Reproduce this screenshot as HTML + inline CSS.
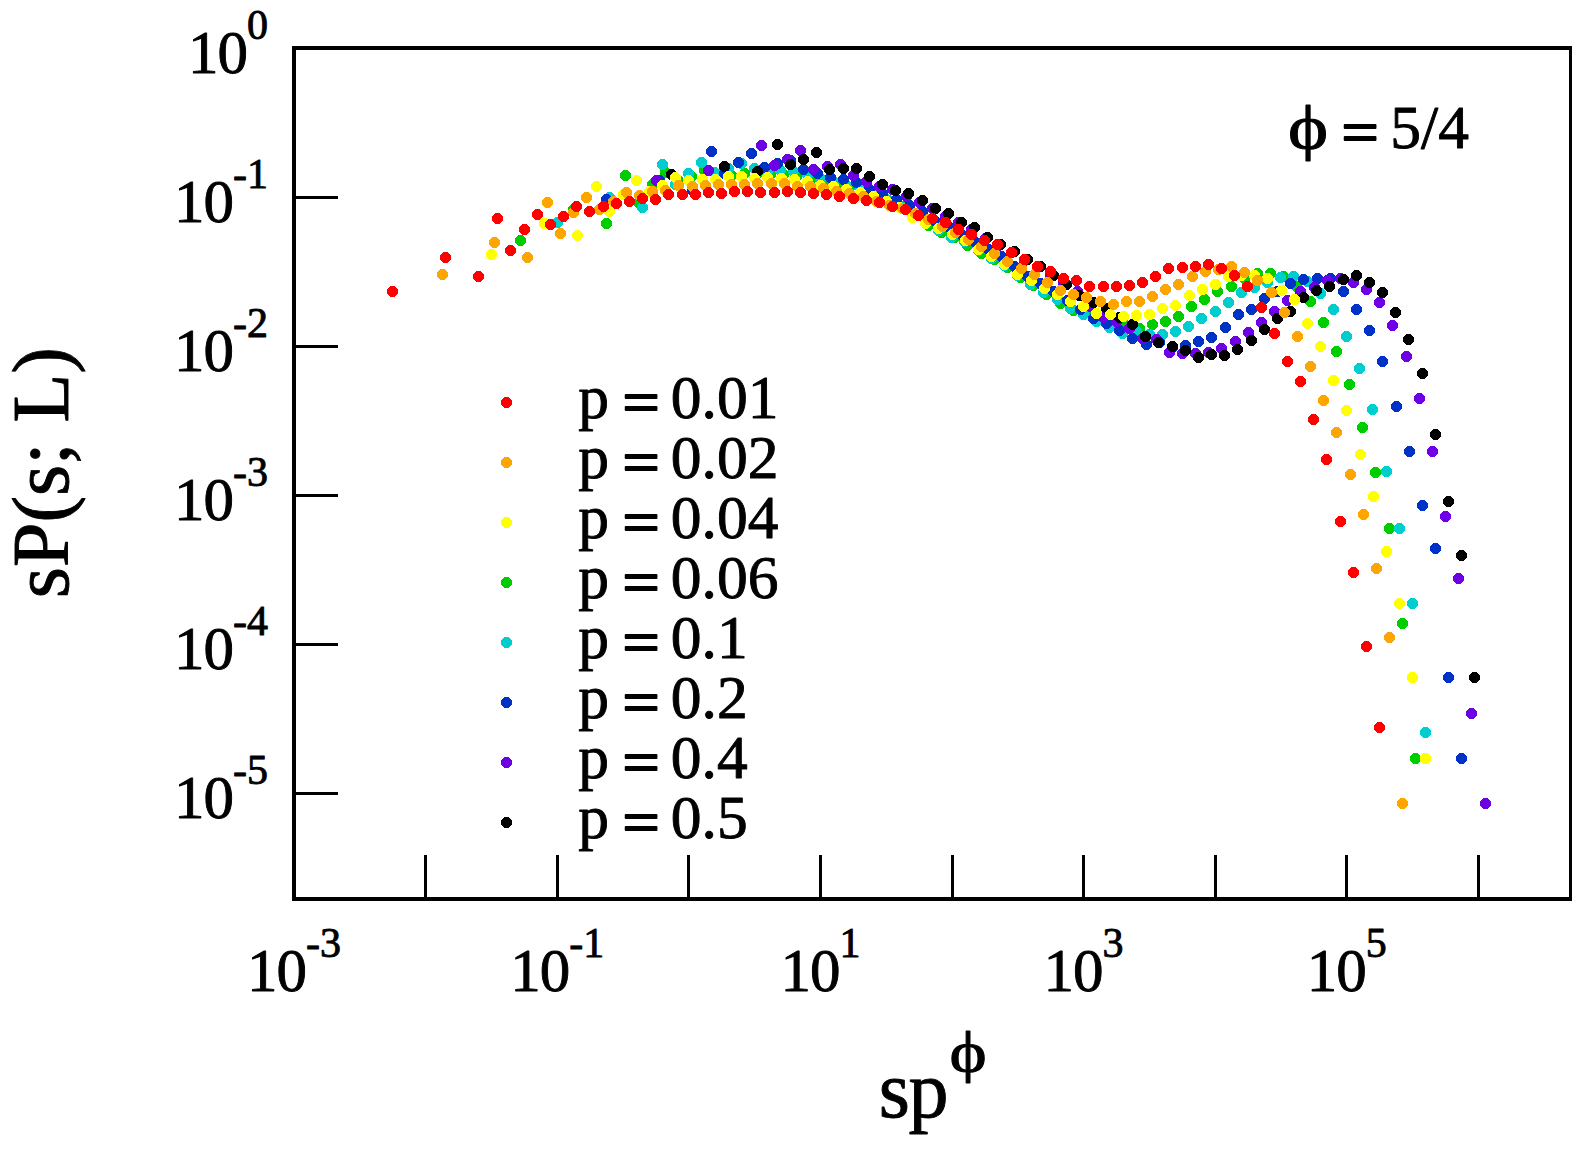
<!DOCTYPE html>
<html><head><meta charset="utf-8"><title>sP(s; L) scaling plot</title>
<style>
html,body{margin:0;padding:0;background:#fff;}
body{width:1591px;height:1149px;overflow:hidden;}
svg{display:block;}
text{font-family:"Liberation Serif",serif;fill:#000;stroke:#000;stroke-width:0.9px;stroke-linejoin:round;}
</style></head><body>
<svg width="1591" height="1149" viewBox="0 0 1591 1149">
<rect x="0" y="0" width="1591" height="1149" fill="#ffffff"/>
<g fill="#000" shape-rendering="crispEdges">
<rect x="292" y="46" width="4" height="855"/><rect x="292" y="46" width="1280" height="4"/><rect x="1569" y="46" width="3" height="855"/><rect x="292" y="897" width="1280" height="4"/>
<rect x="424" y="855" width="3" height="43"/><rect x="556" y="855" width="3" height="43"/><rect x="687" y="855" width="3" height="43"/><rect x="819" y="855" width="3" height="43"/><rect x="951" y="855" width="3" height="43"/><rect x="1082" y="855" width="3" height="43"/><rect x="1214" y="855" width="3" height="43"/><rect x="1345" y="855" width="3" height="43"/><rect x="1477" y="855" width="3" height="43"/>
<rect x="295" y="196" width="43" height="3"/><rect x="295" y="345" width="43" height="3"/><rect x="295" y="494" width="43" height="3"/><rect x="295" y="643" width="43" height="3"/><rect x="295" y="792" width="43" height="3"/>
</g>
<g font-size="61">
<text x="268" y="73.1" text-anchor="end"><tspan letter-spacing="-1">10</tspan><tspan font-size="42" dy="-34">0</tspan></text>
<text x="268" y="222.1" text-anchor="end"><tspan letter-spacing="-1">10</tspan><tspan font-size="42" dy="-34">-1</tspan></text>
<text x="268" y="371.1" text-anchor="end"><tspan letter-spacing="-1">10</tspan><tspan font-size="42" dy="-34">-2</tspan></text>
<text x="268" y="520.1" text-anchor="end"><tspan letter-spacing="-1">10</tspan><tspan font-size="42" dy="-34">-3</tspan></text>
<text x="268" y="669.1" text-anchor="end"><tspan letter-spacing="-1">10</tspan><tspan font-size="42" dy="-34">-4</tspan></text>
<text x="268" y="818.1" text-anchor="end"><tspan letter-spacing="-1">10</tspan><tspan font-size="42" dy="-34">-5</tspan></text>
<text x="294.0" y="991" text-anchor="middle"><tspan letter-spacing="-1">10</tspan><tspan font-size="42" dy="-34">-3</tspan></text>
<text x="557.2" y="991" text-anchor="middle"><tspan letter-spacing="-1">10</tspan><tspan font-size="42" dy="-34">-1</tspan></text>
<text x="820.4" y="991" text-anchor="middle"><tspan letter-spacing="-1">10</tspan><tspan font-size="42" dy="-34">1</tspan></text>
<text x="1083.6" y="991" text-anchor="middle"><tspan letter-spacing="-1">10</tspan><tspan font-size="42" dy="-34">3</tspan></text>
<text x="1346.8" y="991" text-anchor="middle"><tspan letter-spacing="-1">10</tspan><tspan font-size="42" dy="-34">5</tspan></text>
</g>
<text x="0" y="0" font-size="80" text-anchor="middle" transform="translate(68,472.6) rotate(-90)">sP(s; L)</text>
<text x="878.8" y="1116.8" font-size="80" letter-spacing="-1.5">sp</text>
<text x="0" y="0" font-size="57" transform="translate(949.5,1070.5) scale(1.24,1)">ϕ</text>
<text x="0" y="0" font-size="61" transform="translate(1288,148.4) scale(1.25,1)">ϕ</text>
<text x="0" y="0" font-size="61" text-anchor="middle" style="stroke-width:1.9px" transform="translate(1360.1,152.7) scale(1.08,1)">=</text>
<text x="1390.3" y="148.4" font-size="61.5">5/4</text>
<g font-size="61.5">
<circle cx="506.5" cy="402.5" r="5.6" fill="#ff0000" shape-rendering="crispEdges"/><text x="578.2" y="418.4">p</text><text x="0" y="0" font-size="61" text-anchor="middle" style="stroke-width:1.9px" transform="translate(641,422.7) scale(1.08,1)">=</text><text x="670.8" y="418.4">0.01</text>
<circle cx="506.5" cy="462.5" r="5.6" fill="#ffa500" shape-rendering="crispEdges"/><text x="578.2" y="478.4">p</text><text x="0" y="0" font-size="61" text-anchor="middle" style="stroke-width:1.9px" transform="translate(641,482.7) scale(1.08,1)">=</text><text x="670.8" y="478.4">0.02</text>
<circle cx="506.5" cy="522.5" r="5.6" fill="#ffff00" shape-rendering="crispEdges"/><text x="578.2" y="538.4">p</text><text x="0" y="0" font-size="61" text-anchor="middle" style="stroke-width:1.9px" transform="translate(641,542.7) scale(1.08,1)">=</text><text x="670.8" y="538.4">0.04</text>
<circle cx="506.5" cy="582.5" r="5.6" fill="#00cd00" shape-rendering="crispEdges"/><text x="578.2" y="598.4">p</text><text x="0" y="0" font-size="61" text-anchor="middle" style="stroke-width:1.9px" transform="translate(641,602.7) scale(1.08,1)">=</text><text x="670.8" y="598.4">0.06</text>
<circle cx="506.5" cy="642.5" r="5.6" fill="#00cdcd" shape-rendering="crispEdges"/><text x="578.2" y="658.4">p</text><text x="0" y="0" font-size="61" text-anchor="middle" style="stroke-width:1.9px" transform="translate(641,662.7) scale(1.08,1)">=</text><text x="670.8" y="658.4">0.1</text>
<circle cx="506.5" cy="702.5" r="5.6" fill="#0032c8" shape-rendering="crispEdges"/><text x="578.2" y="718.4">p</text><text x="0" y="0" font-size="61" text-anchor="middle" style="stroke-width:1.9px" transform="translate(641,722.7) scale(1.08,1)">=</text><text x="670.8" y="718.4">0.2</text>
<circle cx="506.5" cy="762.5" r="5.6" fill="#6e00e6" shape-rendering="crispEdges"/><text x="578.2" y="778.4">p</text><text x="0" y="0" font-size="61" text-anchor="middle" style="stroke-width:1.9px" transform="translate(641,782.7) scale(1.08,1)">=</text><text x="670.8" y="778.4">0.4</text>
<circle cx="506.5" cy="822.5" r="5.6" fill="#000000" shape-rendering="crispEdges"/><text x="578.2" y="838.4">p</text><text x="0" y="0" font-size="61" text-anchor="middle" style="stroke-width:1.9px" transform="translate(641,842.7) scale(1.08,1)">=</text><text x="670.8" y="838.4">0.5</text>
</g>
<g fill="#00cd00" shape-rendering="crispEdges">
<circle cx="520.5" cy="240.5" r="5.6"/><circle cx="573.5" cy="209.5" r="5.6"/><circle cx="606.5" cy="223.5" r="5.6"/><circle cx="625.5" cy="175.5" r="5.6"/><circle cx="638.5" cy="202.5" r="5.6"/><circle cx="652.5" cy="184.5" r="5.6"/><circle cx="665.5" cy="172.5" r="5.6"/><circle cx="678.5" cy="180.5" r="5.6"/><circle cx="691.5" cy="176.5" r="5.6"/><circle cx="704.5" cy="170.5" r="5.6"/><circle cx="717.5" cy="174.5" r="5.6"/><circle cx="731.5" cy="175.5" r="5.6"/><circle cx="744.5" cy="173.5" r="5.6"/><circle cx="757.5" cy="173.5" r="5.6"/><circle cx="770.5" cy="174.5" r="5.6"/><circle cx="783.5" cy="174.5" r="5.6"/><circle cx="796.5" cy="176.5" r="5.6"/><circle cx="810.5" cy="179.5" r="5.6"/><circle cx="823.5" cy="181.5" r="5.6"/><circle cx="836.5" cy="185.5" r="5.6"/><circle cx="849.5" cy="187.5" r="5.6"/><circle cx="862.5" cy="191.5" r="5.6"/><circle cx="875.5" cy="195.5" r="5.6"/><circle cx="888.5" cy="200.5" r="5.6"/><circle cx="902.5" cy="206.5" r="5.6"/><circle cx="915.5" cy="214.5" r="5.6"/><circle cx="928.5" cy="225.5" r="5.6"/><circle cx="941.5" cy="232.5" r="5.6"/><circle cx="954.5" cy="237.5" r="5.6"/><circle cx="967.5" cy="245.5" r="5.6"/><circle cx="981.5" cy="253.5" r="5.6"/><circle cx="994.5" cy="259.5" r="5.6"/><circle cx="1007.5" cy="267.5" r="5.6"/><circle cx="1020.5" cy="277.5" r="5.6"/><circle cx="1033.5" cy="285.5" r="5.6"/><circle cx="1046.5" cy="294.5" r="5.6"/><circle cx="1060.5" cy="303.5" r="5.6"/><circle cx="1073.5" cy="310.5" r="5.6"/><circle cx="1086.5" cy="312.5" r="5.6"/><circle cx="1099.5" cy="317.5" r="5.6"/><circle cx="1112.5" cy="321.5" r="5.6"/><circle cx="1125.5" cy="325.5" r="5.6"/><circle cx="1139.5" cy="328.5" r="5.6"/><circle cx="1152.5" cy="324.5" r="5.6"/><circle cx="1165.5" cy="321.5" r="5.6"/><circle cx="1178.5" cy="316.5" r="5.6"/><circle cx="1191.5" cy="306.5" r="5.6"/><circle cx="1204.5" cy="299.5" r="5.6"/><circle cx="1217.5" cy="291.5" r="5.6"/><circle cx="1231.5" cy="286.5" r="5.6"/><circle cx="1244.5" cy="278.5" r="5.6"/><circle cx="1257.5" cy="273.5" r="5.6"/><circle cx="1270.5" cy="273.5" r="5.6"/><circle cx="1283.5" cy="276.5" r="5.6"/><circle cx="1296.5" cy="286.5" r="5.6"/><circle cx="1310.5" cy="301.5" r="5.6"/><circle cx="1323.5" cy="322.5" r="5.6"/><circle cx="1336.5" cy="351.5" r="5.6"/><circle cx="1349.5" cy="384.5" r="5.6"/><circle cx="1362.5" cy="427.5" r="5.6"/><circle cx="1375.5" cy="472.5" r="5.6"/><circle cx="1389.5" cy="528.5" r="5.6"/><circle cx="1402.5" cy="623.5" r="5.6"/><circle cx="1415.5" cy="758.5" r="5.6"/>
</g>
<g fill="#00cdcd" shape-rendering="crispEdges">
<circle cx="557.5" cy="222.5" r="5.6"/><circle cx="609.5" cy="197.5" r="5.6"/><circle cx="642.5" cy="207.5" r="5.6"/><circle cx="662.5" cy="164.5" r="5.6"/><circle cx="675.5" cy="184.5" r="5.6"/><circle cx="688.5" cy="173.5" r="5.6"/><circle cx="701.5" cy="162.5" r="5.6"/><circle cx="714.5" cy="172.5" r="5.6"/><circle cx="728.5" cy="168.5" r="5.6"/><circle cx="741.5" cy="163.5" r="5.6"/><circle cx="754.5" cy="168.5" r="5.6"/><circle cx="767.5" cy="171.5" r="5.6"/><circle cx="780.5" cy="170.5" r="5.6"/><circle cx="793.5" cy="171.5" r="5.6"/><circle cx="807.5" cy="174.5" r="5.6"/><circle cx="820.5" cy="178.5" r="5.6"/><circle cx="833.5" cy="181.5" r="5.6"/><circle cx="846.5" cy="185.5" r="5.6"/><circle cx="859.5" cy="187.5" r="5.6"/><circle cx="872.5" cy="192.5" r="5.6"/><circle cx="886.5" cy="199.5" r="5.6"/><circle cx="899.5" cy="206.5" r="5.6"/><circle cx="912.5" cy="214.5" r="5.6"/><circle cx="925.5" cy="223.5" r="5.6"/><circle cx="938.5" cy="230.5" r="5.6"/><circle cx="951.5" cy="237.5" r="5.6"/><circle cx="964.5" cy="241.5" r="5.6"/><circle cx="978.5" cy="250.5" r="5.6"/><circle cx="991.5" cy="258.5" r="5.6"/><circle cx="1004.5" cy="265.5" r="5.6"/><circle cx="1017.5" cy="275.5" r="5.6"/><circle cx="1030.5" cy="284.5" r="5.6"/><circle cx="1043.5" cy="292.5" r="5.6"/><circle cx="1057.5" cy="299.5" r="5.6"/><circle cx="1070.5" cy="308.5" r="5.6"/><circle cx="1083.5" cy="314.5" r="5.6"/><circle cx="1096.5" cy="321.5" r="5.6"/><circle cx="1109.5" cy="327.5" r="5.6"/><circle cx="1122.5" cy="333.5" r="5.6"/><circle cx="1136.5" cy="331.5" r="5.6"/><circle cx="1149.5" cy="334.5" r="5.6"/><circle cx="1162.5" cy="334.5" r="5.6"/><circle cx="1175.5" cy="331.5" r="5.6"/><circle cx="1188.5" cy="326.5" r="5.6"/><circle cx="1201.5" cy="318.5" r="5.6"/><circle cx="1215.5" cy="311.5" r="5.6"/><circle cx="1228.5" cy="302.5" r="5.6"/><circle cx="1241.5" cy="292.5" r="5.6"/><circle cx="1254.5" cy="287.5" r="5.6"/><circle cx="1267.5" cy="282.5" r="5.6"/><circle cx="1280.5" cy="277.5" r="5.6"/><circle cx="1293.5" cy="276.5" r="5.6"/><circle cx="1307.5" cy="281.5" r="5.6"/><circle cx="1320.5" cy="293.5" r="5.6"/><circle cx="1333.5" cy="309.5" r="5.6"/><circle cx="1346.5" cy="336.5" r="5.6"/><circle cx="1359.5" cy="368.5" r="5.6"/><circle cx="1372.5" cy="409.5" r="5.6"/><circle cx="1386.5" cy="471.5" r="5.6"/><circle cx="1399.5" cy="528.5" r="5.6"/><circle cx="1412.5" cy="603.5" r="5.6"/><circle cx="1425.5" cy="732.5" r="5.6"/>
</g>
<g fill="#0032c8" shape-rendering="crispEdges">
<circle cx="606.5" cy="199.5" r="5.6"/><circle cx="659.5" cy="180.5" r="5.6"/><circle cx="692.5" cy="190.5" r="5.6"/><circle cx="711.5" cy="151.5" r="5.6"/><circle cx="724.5" cy="173.5" r="5.6"/><circle cx="738.5" cy="162.5" r="5.6"/><circle cx="751.5" cy="153.5" r="5.6"/><circle cx="764.5" cy="167.5" r="5.6"/><circle cx="777.5" cy="163.5" r="5.6"/><circle cx="790.5" cy="160.5" r="5.6"/><circle cx="803.5" cy="169.5" r="5.6"/><circle cx="817.5" cy="173.5" r="5.6"/><circle cx="830.5" cy="177.5" r="5.6"/><circle cx="843.5" cy="179.5" r="5.6"/><circle cx="856.5" cy="182.5" r="5.6"/><circle cx="869.5" cy="189.5" r="5.6"/><circle cx="882.5" cy="193.5" r="5.6"/><circle cx="896.5" cy="199.5" r="5.6"/><circle cx="909.5" cy="205.5" r="5.6"/><circle cx="922.5" cy="211.5" r="5.6"/><circle cx="935.5" cy="221.5" r="5.6"/><circle cx="948.5" cy="226.5" r="5.6"/><circle cx="961.5" cy="234.5" r="5.6"/><circle cx="974.5" cy="241.5" r="5.6"/><circle cx="988.5" cy="249.5" r="5.6"/><circle cx="1001.5" cy="256.5" r="5.6"/><circle cx="1014.5" cy="266.5" r="5.6"/><circle cx="1027.5" cy="276.5" r="5.6"/><circle cx="1040.5" cy="283.5" r="5.6"/><circle cx="1053.5" cy="291.5" r="5.6"/><circle cx="1067.5" cy="300.5" r="5.6"/><circle cx="1080.5" cy="309.5" r="5.6"/><circle cx="1093.5" cy="318.5" r="5.6"/><circle cx="1106.5" cy="323.5" r="5.6"/><circle cx="1119.5" cy="330.5" r="5.6"/><circle cx="1132.5" cy="338.5" r="5.6"/><circle cx="1146.5" cy="344.5" r="5.6"/><circle cx="1159.5" cy="342.5" r="5.6"/><circle cx="1172.5" cy="347.5" r="5.6"/><circle cx="1185.5" cy="345.5" r="5.6"/><circle cx="1198.5" cy="341.5" r="5.6"/><circle cx="1211.5" cy="337.5" r="5.6"/><circle cx="1225.5" cy="327.5" r="5.6"/><circle cx="1238.5" cy="314.5" r="5.6"/><circle cx="1251.5" cy="309.5" r="5.6"/><circle cx="1264.5" cy="298.5" r="5.6"/><circle cx="1277.5" cy="291.5" r="5.6"/><circle cx="1290.5" cy="283.5" r="5.6"/><circle cx="1303.5" cy="279.5" r="5.6"/><circle cx="1317.5" cy="278.5" r="5.6"/><circle cx="1330.5" cy="278.5" r="5.6"/><circle cx="1343.5" cy="291.5" r="5.6"/><circle cx="1356.5" cy="309.5" r="5.6"/><circle cx="1369.5" cy="330.5" r="5.6"/><circle cx="1382.5" cy="361.5" r="5.6"/><circle cx="1396.5" cy="406.5" r="5.6"/><circle cx="1409.5" cy="451.5" r="5.6"/><circle cx="1422.5" cy="505.5" r="5.6"/><circle cx="1435.5" cy="548.5" r="5.6"/><circle cx="1448.5" cy="677.5" r="5.6"/><circle cx="1461.5" cy="758.5" r="5.6"/>
</g>
<g fill="#6e00e6" shape-rendering="crispEdges">
<circle cx="656.5" cy="180.5" r="5.6"/><circle cx="708.5" cy="170.5" r="5.6"/><circle cx="741.5" cy="176.5" r="5.6"/><circle cx="761.5" cy="145.5" r="5.6"/><circle cx="774.5" cy="165.5" r="5.6"/><circle cx="787.5" cy="159.5" r="5.6"/><circle cx="800.5" cy="150.5" r="5.6"/><circle cx="813.5" cy="169.5" r="5.6"/><circle cx="827.5" cy="166.5" r="5.6"/><circle cx="840.5" cy="164.5" r="5.6"/><circle cx="853.5" cy="175.5" r="5.6"/><circle cx="866.5" cy="181.5" r="5.6"/><circle cx="879.5" cy="186.5" r="5.6"/><circle cx="892.5" cy="189.5" r="5.6"/><circle cx="906.5" cy="196.5" r="5.6"/><circle cx="919.5" cy="202.5" r="5.6"/><circle cx="932.5" cy="208.5" r="5.6"/><circle cx="945.5" cy="216.5" r="5.6"/><circle cx="958.5" cy="222.5" r="5.6"/><circle cx="971.5" cy="229.5" r="5.6"/><circle cx="985.5" cy="238.5" r="5.6"/><circle cx="998.5" cy="245.5" r="5.6"/><circle cx="1011.5" cy="252.5" r="5.6"/><circle cx="1024.5" cy="260.5" r="5.6"/><circle cx="1037.5" cy="267.5" r="5.6"/><circle cx="1050.5" cy="275.5" r="5.6"/><circle cx="1063.5" cy="283.5" r="5.6"/><circle cx="1077.5" cy="291.5" r="5.6"/><circle cx="1090.5" cy="306.5" r="5.6"/><circle cx="1103.5" cy="317.5" r="5.6"/><circle cx="1116.5" cy="321.5" r="5.6"/><circle cx="1129.5" cy="328.5" r="5.6"/><circle cx="1142.5" cy="338.5" r="5.6"/><circle cx="1156.5" cy="339.5" r="5.6"/><circle cx="1169.5" cy="352.5" r="5.6"/><circle cx="1182.5" cy="353.5" r="5.6"/><circle cx="1195.5" cy="353.5" r="5.6"/><circle cx="1208.5" cy="352.5" r="5.6"/><circle cx="1221.5" cy="348.5" r="5.6"/><circle cx="1235.5" cy="341.5" r="5.6"/><circle cx="1248.5" cy="332.5" r="5.6"/><circle cx="1261.5" cy="322.5" r="5.6"/><circle cx="1274.5" cy="311.5" r="5.6"/><circle cx="1287.5" cy="300.5" r="5.6"/><circle cx="1300.5" cy="291.5" r="5.6"/><circle cx="1314.5" cy="287.5" r="5.6"/><circle cx="1327.5" cy="280.5" r="5.6"/><circle cx="1340.5" cy="278.5" r="5.6"/><circle cx="1353.5" cy="282.5" r="5.6"/><circle cx="1366.5" cy="289.5" r="5.6"/><circle cx="1379.5" cy="302.5" r="5.6"/><circle cx="1392.5" cy="325.5" r="5.6"/><circle cx="1406.5" cy="356.5" r="5.6"/><circle cx="1419.5" cy="398.5" r="5.6"/><circle cx="1432.5" cy="451.5" r="5.6"/><circle cx="1445.5" cy="516.5" r="5.6"/><circle cx="1458.5" cy="578.5" r="5.6"/><circle cx="1471.5" cy="713.5" r="5.6"/><circle cx="1485.5" cy="803.5" r="5.6"/>
</g>
<g fill="#000000" shape-rendering="crispEdges">
<circle cx="671.5" cy="174.5" r="5.6"/><circle cx="724.5" cy="166.5" r="5.6"/><circle cx="757.5" cy="171.5" r="5.6"/><circle cx="777.5" cy="144.5" r="5.6"/><circle cx="790.5" cy="164.5" r="5.6"/><circle cx="803.5" cy="159.5" r="5.6"/><circle cx="816.5" cy="152.5" r="5.6"/><circle cx="829.5" cy="169.5" r="5.6"/><circle cx="843.5" cy="168.5" r="5.6"/><circle cx="856.5" cy="168.5" r="5.6"/><circle cx="869.5" cy="176.5" r="5.6"/><circle cx="882.5" cy="184.5" r="5.6"/><circle cx="895.5" cy="190.5" r="5.6"/><circle cx="908.5" cy="193.5" r="5.6"/><circle cx="922.5" cy="200.5" r="5.6"/><circle cx="935.5" cy="208.5" r="5.6"/><circle cx="948.5" cy="213.5" r="5.6"/><circle cx="961.5" cy="222.5" r="5.6"/><circle cx="974.5" cy="227.5" r="5.6"/><circle cx="987.5" cy="237.5" r="5.6"/><circle cx="1000.5" cy="244.5" r="5.6"/><circle cx="1014.5" cy="251.5" r="5.6"/><circle cx="1027.5" cy="259.5" r="5.6"/><circle cx="1040.5" cy="266.5" r="5.6"/><circle cx="1053.5" cy="275.5" r="5.6"/><circle cx="1066.5" cy="284.5" r="5.6"/><circle cx="1079.5" cy="295.5" r="5.6"/><circle cx="1093.5" cy="302.5" r="5.6"/><circle cx="1106.5" cy="308.5" r="5.6"/><circle cx="1119.5" cy="317.5" r="5.6"/><circle cx="1132.5" cy="324.5" r="5.6"/><circle cx="1145.5" cy="336.5" r="5.6"/><circle cx="1158.5" cy="342.5" r="5.6"/><circle cx="1172.5" cy="346.5" r="5.6"/><circle cx="1185.5" cy="350.5" r="5.6"/><circle cx="1198.5" cy="357.5" r="5.6"/><circle cx="1211.5" cy="354.5" r="5.6"/><circle cx="1224.5" cy="355.5" r="5.6"/><circle cx="1237.5" cy="349.5" r="5.6"/><circle cx="1251.5" cy="340.5" r="5.6"/><circle cx="1264.5" cy="329.5" r="5.6"/><circle cx="1277.5" cy="318.5" r="5.6"/><circle cx="1290.5" cy="311.5" r="5.6"/><circle cx="1303.5" cy="297.5" r="5.6"/><circle cx="1316.5" cy="290.5" r="5.6"/><circle cx="1329.5" cy="286.5" r="5.6"/><circle cx="1343.5" cy="279.5" r="5.6"/><circle cx="1356.5" cy="275.5" r="5.6"/><circle cx="1369.5" cy="282.5" r="5.6"/><circle cx="1382.5" cy="292.5" r="5.6"/><circle cx="1395.5" cy="312.5" r="5.6"/><circle cx="1408.5" cy="339.5" r="5.6"/><circle cx="1422.5" cy="373.5" r="5.6"/><circle cx="1435.5" cy="434.5" r="5.6"/><circle cx="1448.5" cy="501.5" r="5.6"/><circle cx="1461.5" cy="555.5" r="5.6"/><circle cx="1474.5" cy="677.5" r="5.6"/>
</g>
<g fill="#ffff00" shape-rendering="crispEdges">
<circle cx="491.5" cy="254.5" r="5.6"/><circle cx="544.5" cy="223.5" r="5.6"/><circle cx="577.5" cy="235.5" r="5.6"/><circle cx="596.5" cy="186.5" r="5.6"/><circle cx="609.5" cy="211.5" r="5.6"/><circle cx="623.5" cy="194.5" r="5.6"/><circle cx="636.5" cy="180.5" r="5.6"/><circle cx="649.5" cy="191.5" r="5.6"/><circle cx="662.5" cy="185.5" r="5.6"/><circle cx="675.5" cy="177.5" r="5.6"/><circle cx="688.5" cy="180.5" r="5.6"/><circle cx="702.5" cy="179.5" r="5.6"/><circle cx="715.5" cy="179.5" r="5.6"/><circle cx="728.5" cy="176.5" r="5.6"/><circle cx="741.5" cy="176.5" r="5.6"/><circle cx="754.5" cy="178.5" r="5.6"/><circle cx="767.5" cy="177.5" r="5.6"/><circle cx="781.5" cy="178.5" r="5.6"/><circle cx="794.5" cy="179.5" r="5.6"/><circle cx="807.5" cy="181.5" r="5.6"/><circle cx="820.5" cy="185.5" r="5.6"/><circle cx="833.5" cy="186.5" r="5.6"/><circle cx="846.5" cy="189.5" r="5.6"/><circle cx="860.5" cy="192.5" r="5.6"/><circle cx="873.5" cy="196.5" r="5.6"/><circle cx="886.5" cy="201.5" r="5.6"/><circle cx="899.5" cy="207.5" r="5.6"/><circle cx="912.5" cy="217.5" r="5.6"/><circle cx="925.5" cy="223.5" r="5.6"/><circle cx="938.5" cy="228.5" r="5.6"/><circle cx="952.5" cy="234.5" r="5.6"/><circle cx="965.5" cy="240.5" r="5.6"/><circle cx="978.5" cy="249.5" r="5.6"/><circle cx="991.5" cy="256.5" r="5.6"/><circle cx="1004.5" cy="264.5" r="5.6"/><circle cx="1017.5" cy="274.5" r="5.6"/><circle cx="1031.5" cy="280.5" r="5.6"/><circle cx="1044.5" cy="288.5" r="5.6"/><circle cx="1057.5" cy="294.5" r="5.6"/><circle cx="1070.5" cy="301.5" r="5.6"/><circle cx="1083.5" cy="306.5" r="5.6"/><circle cx="1096.5" cy="313.5" r="5.6"/><circle cx="1110.5" cy="314.5" r="5.6"/><circle cx="1123.5" cy="316.5" r="5.6"/><circle cx="1136.5" cy="315.5" r="5.6"/><circle cx="1149.5" cy="314.5" r="5.6"/><circle cx="1162.5" cy="308.5" r="5.6"/><circle cx="1175.5" cy="305.5" r="5.6"/><circle cx="1189.5" cy="295.5" r="5.6"/><circle cx="1202.5" cy="289.5" r="5.6"/><circle cx="1215.5" cy="284.5" r="5.6"/><circle cx="1228.5" cy="276.5" r="5.6"/><circle cx="1241.5" cy="275.5" r="5.6"/><circle cx="1254.5" cy="275.5" r="5.6"/><circle cx="1267.5" cy="278.5" r="5.6"/><circle cx="1281.5" cy="290.5" r="5.6"/><circle cx="1294.5" cy="299.5" r="5.6"/><circle cx="1307.5" cy="323.5" r="5.6"/><circle cx="1320.5" cy="346.5" r="5.6"/><circle cx="1333.5" cy="380.5" r="5.6"/><circle cx="1346.5" cy="410.5" r="5.6"/><circle cx="1360.5" cy="454.5" r="5.6"/><circle cx="1373.5" cy="496.5" r="5.6"/><circle cx="1386.5" cy="551.5" r="5.6"/><circle cx="1399.5" cy="603.5" r="5.6"/><circle cx="1412.5" cy="677.5" r="5.6"/><circle cx="1425.5" cy="758.5" r="5.6"/>
</g>
<g fill="#ffa500" shape-rendering="crispEdges">
<circle cx="442.5" cy="274.5" r="5.6"/><circle cx="494.5" cy="242.5" r="5.6"/><circle cx="527.5" cy="257.5" r="5.6"/><circle cx="547.5" cy="202.5" r="5.6"/><circle cx="560.5" cy="233.5" r="5.6"/><circle cx="573.5" cy="212.5" r="5.6"/><circle cx="586.5" cy="197.5" r="5.6"/><circle cx="599.5" cy="209.5" r="5.6"/><circle cx="613.5" cy="201.5" r="5.6"/><circle cx="626.5" cy="192.5" r="5.6"/><circle cx="639.5" cy="195.5" r="5.6"/><circle cx="652.5" cy="191.5" r="5.6"/><circle cx="665.5" cy="190.5" r="5.6"/><circle cx="678.5" cy="185.5" r="5.6"/><circle cx="692.5" cy="186.5" r="5.6"/><circle cx="705.5" cy="185.5" r="5.6"/><circle cx="718.5" cy="184.5" r="5.6"/><circle cx="731.5" cy="184.5" r="5.6"/><circle cx="744.5" cy="184.5" r="5.6"/><circle cx="757.5" cy="183.5" r="5.6"/><circle cx="771.5" cy="183.5" r="5.6"/><circle cx="784.5" cy="183.5" r="5.6"/><circle cx="797.5" cy="186.5" r="5.6"/><circle cx="810.5" cy="186.5" r="5.6"/><circle cx="823.5" cy="188.5" r="5.6"/><circle cx="836.5" cy="191.5" r="5.6"/><circle cx="849.5" cy="193.5" r="5.6"/><circle cx="863.5" cy="196.5" r="5.6"/><circle cx="876.5" cy="201.5" r="5.6"/><circle cx="889.5" cy="205.5" r="5.6"/><circle cx="902.5" cy="208.5" r="5.6"/><circle cx="915.5" cy="213.5" r="5.6"/><circle cx="928.5" cy="219.5" r="5.6"/><circle cx="942.5" cy="226.5" r="5.6"/><circle cx="955.5" cy="232.5" r="5.6"/><circle cx="968.5" cy="239.5" r="5.6"/><circle cx="981.5" cy="246.5" r="5.6"/><circle cx="994.5" cy="253.5" r="5.6"/><circle cx="1007.5" cy="261.5" r="5.6"/><circle cx="1021.5" cy="268.5" r="5.6"/><circle cx="1034.5" cy="274.5" r="5.6"/><circle cx="1047.5" cy="282.5" r="5.6"/><circle cx="1060.5" cy="290.5" r="5.6"/><circle cx="1073.5" cy="294.5" r="5.6"/><circle cx="1086.5" cy="297.5" r="5.6"/><circle cx="1100.5" cy="301.5" r="5.6"/><circle cx="1113.5" cy="304.5" r="5.6"/><circle cx="1126.5" cy="301.5" r="5.6"/><circle cx="1139.5" cy="301.5" r="5.6"/><circle cx="1152.5" cy="296.5" r="5.6"/><circle cx="1165.5" cy="289.5" r="5.6"/><circle cx="1178.5" cy="284.5" r="5.6"/><circle cx="1192.5" cy="276.5" r="5.6"/><circle cx="1205.5" cy="271.5" r="5.6"/><circle cx="1218.5" cy="269.5" r="5.6"/><circle cx="1231.5" cy="266.5" r="5.6"/><circle cx="1244.5" cy="272.5" r="5.6"/><circle cx="1257.5" cy="280.5" r="5.6"/><circle cx="1271.5" cy="292.5" r="5.6"/><circle cx="1284.5" cy="312.5" r="5.6"/><circle cx="1297.5" cy="336.5" r="5.6"/><circle cx="1310.5" cy="366.5" r="5.6"/><circle cx="1323.5" cy="400.5" r="5.6"/><circle cx="1336.5" cy="432.5" r="5.6"/><circle cx="1350.5" cy="474.5" r="5.6"/><circle cx="1363.5" cy="514.5" r="5.6"/><circle cx="1376.5" cy="568.5" r="5.6"/><circle cx="1389.5" cy="637.5" r="5.6"/><circle cx="1402.5" cy="803.5" r="5.6"/>
</g>
<g fill="#ff0000" shape-rendering="crispEdges">
<circle cx="392.5" cy="291.5" r="5.6"/><circle cx="445.5" cy="257.5" r="5.6"/><circle cx="478.5" cy="276.5" r="5.6"/><circle cx="497.5" cy="218.5" r="5.6"/><circle cx="510.5" cy="250.5" r="5.6"/><circle cx="524.5" cy="229.5" r="5.6"/><circle cx="537.5" cy="214.5" r="5.6"/><circle cx="550.5" cy="224.5" r="5.6"/><circle cx="563.5" cy="216.5" r="5.6"/><circle cx="576.5" cy="206.5" r="5.6"/><circle cx="589.5" cy="211.5" r="5.6"/><circle cx="603.5" cy="206.5" r="5.6"/><circle cx="616.5" cy="203.5" r="5.6"/><circle cx="629.5" cy="201.5" r="5.6"/><circle cx="642.5" cy="198.5" r="5.6"/><circle cx="655.5" cy="199.5" r="5.6"/><circle cx="668.5" cy="194.5" r="5.6"/><circle cx="682.5" cy="194.5" r="5.6"/><circle cx="695.5" cy="194.5" r="5.6"/><circle cx="708.5" cy="192.5" r="5.6"/><circle cx="721.5" cy="193.5" r="5.6"/><circle cx="734.5" cy="191.5" r="5.6"/><circle cx="747.5" cy="191.5" r="5.6"/><circle cx="760.5" cy="192.5" r="5.6"/><circle cx="774.5" cy="192.5" r="5.6"/><circle cx="787.5" cy="191.5" r="5.6"/><circle cx="800.5" cy="192.5" r="5.6"/><circle cx="813.5" cy="193.5" r="5.6"/><circle cx="826.5" cy="194.5" r="5.6"/><circle cx="839.5" cy="196.5" r="5.6"/><circle cx="853.5" cy="198.5" r="5.6"/><circle cx="866.5" cy="200.5" r="5.6"/><circle cx="879.5" cy="202.5" r="5.6"/><circle cx="892.5" cy="206.5" r="5.6"/><circle cx="905.5" cy="209.5" r="5.6"/><circle cx="918.5" cy="215.5" r="5.6"/><circle cx="932.5" cy="218.5" r="5.6"/><circle cx="945.5" cy="222.5" r="5.6"/><circle cx="958.5" cy="229.5" r="5.6"/><circle cx="971.5" cy="234.5" r="5.6"/><circle cx="984.5" cy="240.5" r="5.6"/><circle cx="997.5" cy="244.5" r="5.6"/><circle cx="1011.5" cy="252.5" r="5.6"/><circle cx="1024.5" cy="259.5" r="5.6"/><circle cx="1037.5" cy="266.5" r="5.6"/><circle cx="1050.5" cy="271.5" r="5.6"/><circle cx="1063.5" cy="278.5" r="5.6"/><circle cx="1076.5" cy="280.5" r="5.6"/><circle cx="1089.5" cy="286.5" r="5.6"/><circle cx="1103.5" cy="286.5" r="5.6"/><circle cx="1116.5" cy="286.5" r="5.6"/><circle cx="1129.5" cy="285.5" r="5.6"/><circle cx="1142.5" cy="282.5" r="5.6"/><circle cx="1155.5" cy="276.5" r="5.6"/><circle cx="1168.5" cy="268.5" r="5.6"/><circle cx="1182.5" cy="267.5" r="5.6"/><circle cx="1195.5" cy="266.5" r="5.6"/><circle cx="1208.5" cy="264.5" r="5.6"/><circle cx="1221.5" cy="268.5" r="5.6"/><circle cx="1234.5" cy="275.5" r="5.6"/><circle cx="1247.5" cy="286.5" r="5.6"/><circle cx="1261.5" cy="307.5" r="5.6"/><circle cx="1274.5" cy="333.5" r="5.6"/><circle cx="1287.5" cy="361.5" r="5.6"/><circle cx="1300.5" cy="381.5" r="5.6"/><circle cx="1313.5" cy="419.5" r="5.6"/><circle cx="1326.5" cy="459.5" r="5.6"/><circle cx="1340.5" cy="521.5" r="5.6"/><circle cx="1353.5" cy="572.5" r="5.6"/><circle cx="1366.5" cy="646.5" r="5.6"/><circle cx="1379.5" cy="727.5" r="5.6"/>
</g>
</svg>
</body></html>
